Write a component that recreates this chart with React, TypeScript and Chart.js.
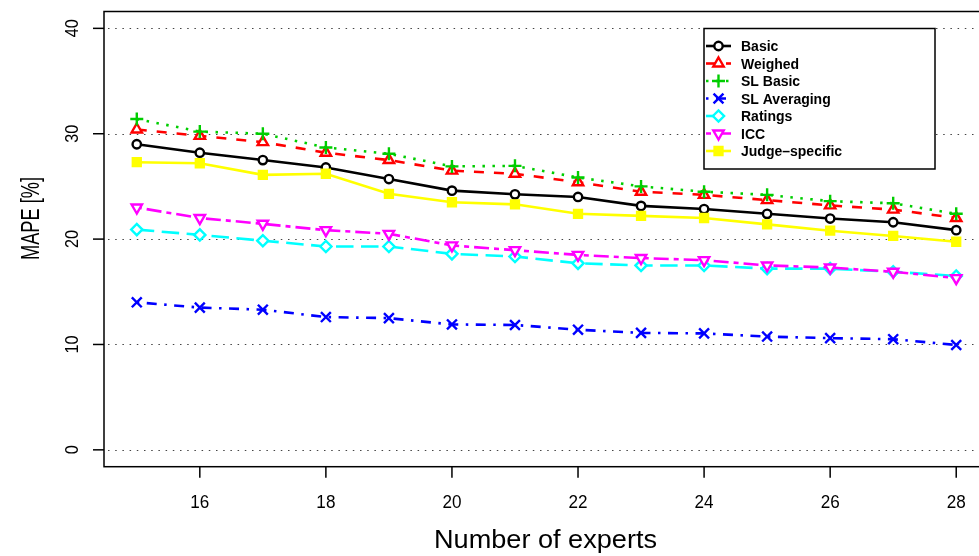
import React, { useEffect, useRef } from "react";
import { Chart, registerables } from "chart.js";
import { drawPoint } from "chart.js/helpers";

Chart.register(...registerables);

// ---------- data ----------
const experts = [15, 16, 17, 18, 19, 20, 21, 22, 23, 24, 25, 26, 27, 28];
const basic = [29.0, 28.2, 27.5, 26.8, 25.7, 24.6, 24.25, 24.0, 23.15, 22.85, 22.4, 21.95, 21.6, 20.85];
const weighed = [30.4, 29.8, 29.2, 28.2, 27.5, 26.5, 26.2, 25.4, 24.5, 24.2, 23.7, 23.2, 22.8, 22.0];
const slBasic = [31.4, 30.2, 30.0, 28.7, 28.1, 26.9, 26.95, 25.85, 25.0, 24.5, 24.2, 23.6, 23.4, 22.4];
const slAveraging = [14.0, 13.5, 13.3, 12.6, 12.5, 11.9, 11.85, 11.4, 11.1, 11.05, 10.75, 10.6, 10.5, 9.95];
const ratings = [20.9, 20.4, 19.85, 19.3, 19.3, 18.6, 18.35, 17.7, 17.5, 17.5, 17.2, 17.2, 16.9, 16.5];
const icc = [23.0, 22.0, 21.45, 20.85, 20.5, 19.4, 18.95, 18.5, 18.2, 18.0, 17.5, 17.3, 16.9, 16.3];
const judgeSpecific = [27.3, 27.2, 26.1, 26.2, 24.3, 23.5, 23.3, 22.4, 22.2, 22.0, 21.4, 20.8, 20.3, 19.75];

const seriesNames = ["Basic", "Weighed", "SL Basic", "SL Averaging", "Ratings", "ICC", "Judge\u2013specific"];
const xTicks = [16, 18, 20, 22, 24, 26, 28];
const yTicks = [0, 10, 20, 30, 40];
const xTitle = "Number of experts";
const yTitle = "MAPE [%]";

// ---------- styles ----------
const LW = 2.6;
const PBW = 2.4;
const styles = [
  { color: "#000000", dash: [], point: "circle", radius: 4.2, rot: 0, fill: false },
  { color: "#FF0000", dash: [10, 10], point: "triangle", radius: 6, rot: 0, fill: false },
  { color: "#00CD00", dash: [2.5, 7.5], point: "cross", radius: 6.5, rot: 0, fill: false },
  { color: "#0000FF", dash: [2.5, 7.5, 10, 7.5], point: "crossRot", radius: 7, rot: 0, fill: false },
  { color: "#00FFFF", dash: [17.5, 7.5], point: "rectRot", radius: 5.6, rot: 0, fill: false },
  { color: "#FF00FF", dash: [5, 5, 15, 5], point: "triangle", radius: 6, rot: 180, fill: false },
  { color: "#FFFF00", dash: [], point: "rect", radius: 5.6, rot: 0, fill: true },
];
const allSeries = [basic, weighed, slBasic, slAveraging, ratings, icc, judgeSpecific];

const FONT = '"Liberation Sans", Arial, Helvetica, sans-serif';

function drawText(
  ctx: CanvasRenderingContext2D,
  text: string,
  x: number,
  y: number,
  font: string,
  opts: { rotate?: number; align?: CanvasTextAlign; baseline?: CanvasTextBaseline; scale?: number; width?: number } = {}
) {
  ctx.save();
  ctx.font = font;
  ctx.fillStyle = "#000";
  ctx.translate(x, y);
  if (opts.rotate) ctx.rotate(opts.rotate);
  let sx = opts.scale ?? 1;
  if (opts.width) sx = opts.width / ctx.measureText(text).width;
  ctx.scale(sx, 1);
  ctx.textAlign = opts.align ?? "center";
  ctx.textBaseline = opts.baseline ?? "alphabetic";
  ctx.fillText(text, 0, 0);
  ctx.restore();
}

const rStylePlugin = {
  id: "rstyle",
  beforeDatasetsDraw(chart: any) {
    const { ctx, chartArea, scales } = chart;
    const y = scales.y;
    ctx.save();
    ctx.strokeStyle = "#444";
    ctx.lineWidth = 1.2;
    ctx.setLineDash([1.5, 5.7]);
    for (const v of yTicks) {
      const py = Math.round(y.getPixelForValue(v)) + 0.5;
      ctx.beginPath();
      ctx.moveTo(chartArea.left + 4, py);
      ctx.lineTo(chartArea.right, py);
      ctx.stroke();
    }
    ctx.restore();
  },
  afterDraw(chart: any) {
    const { ctx, chartArea, scales } = chart;
    const x = scales.x;
    const y = scales.y;
    ctx.save();
    // box
    ctx.strokeStyle = "#000";
    ctx.lineWidth = 1.5;
    ctx.setLineDash([]);
    ctx.strokeRect(chartArea.left, chartArea.top, chartArea.right - chartArea.left, chartArea.bottom - chartArea.top);
    // y ticks
    for (const v of yTicks) {
      const py = y.getPixelForValue(v);
      ctx.beginPath();
      ctx.moveTo(chartArea.left - 11, py);
      ctx.lineTo(chartArea.left, py);
      ctx.stroke();
      drawText(ctx, String(v), 78, py, `18px ${FONT}`, { rotate: -Math.PI / 2, scale: 0.9 });
    }
    // x ticks
    for (const v of xTicks) {
      const px = x.getPixelForValue(v);
      ctx.beginPath();
      ctx.moveTo(px, chartArea.bottom);
      ctx.lineTo(px, chartArea.bottom + 11);
      ctx.stroke();
      drawText(ctx, String(v), px, 508, `18px ${FONT}`, { scale: 0.95 });
    }
    // titles
    drawText(ctx, xTitle, 545.5, 548, `25px ${FONT}`, { width: 223 });
    drawText(ctx, yTitle, 39, 218.5, `26px ${FONT}`, { rotate: -Math.PI / 2, width: 83 });

    // legend
    const lx0 = 704, ly0 = 28.5, lx1 = 935, ly1 = 169;
    ctx.fillStyle = "#fff";
    ctx.fillRect(lx0, ly0, lx1 - lx0, ly1 - ly0);
    ctx.strokeStyle = "#000";
    ctx.lineWidth = 1.5;
    ctx.strokeRect(lx0, ly0, lx1 - lx0, ly1 - ly0);
    seriesNames.forEach((name, i) => {
      const s = styles[i];
      const ry = 46 + 17.5 * i;
      ctx.save();
      ctx.strokeStyle = s.color;
      ctx.lineWidth = LW;
      ctx.setLineDash(s.dash);
      ctx.beginPath();
      ctx.moveTo(706, ry);
      ctx.lineTo(731, ry);
      ctx.stroke();
      ctx.setLineDash([]);
      ctx.fillStyle = s.fill ? s.color : "#ffffff";
      ctx.strokeStyle = s.color;
      ctx.lineWidth = PBW;
      drawPoint(ctx, { pointStyle: s.point, rotation: s.rot, radius: s.radius, borderWidth: PBW } as any, 718.5, ry);
      ctx.restore();
      drawText(ctx, name, 741, ry + 5, `bold 14px ${FONT}`, { align: "left" });
    });
    ctx.restore();
  },
};

export default function App() {
  const ref = useRef<HTMLCanvasElement | null>(null);
  useEffect(() => {
    if (!ref.current) return;
    const datasets = seriesNames.map((name, i) => {
      const s = styles[i];
      return {
        label: name,
        order: seriesNames.length - i,
        data: experts.map((e, k) => ({ x: e, y: allSeries[i][k] })),
        borderColor: s.color,
        backgroundColor: s.fill ? s.color : "#ffffff",
        borderWidth: LW,
        borderDash: s.dash,
        pointStyle: s.point,
        pointRotation: s.rot,
        pointRadius: s.radius,
        pointBorderWidth: PBW,
        pointBorderColor: s.color,
        pointBackgroundColor: s.fill ? s.color : "#ffffff",
        tension: 0,
        fill: false,
      };
    });
    const chart = new Chart(ref.current, {
      type: "line",
      data: { datasets },
      options: {
        animation: false,
        responsive: false,
        devicePixelRatio: 1,
        layout: { padding: { left: 104, top: 11.5, right: 11, bottom: 89.3 } },
        plugins: { legend: { display: false }, tooltip: { enabled: false } },
        scales: {
          x: { type: "linear", min: 14.48, max: 28.52, display: false },
          y: { type: "linear", min: -1.6, max: 41.6, display: false },
        },
      },
      plugins: [rStylePlugin],
    } as any);
    return () => chart.destroy();
  }, []);
  return (
    <div style={{ position: "fixed", left: 0, top: 0, width: 979, height: 556, overflow: "hidden", background: "#fff" }}>
      <canvas ref={ref} width={1000} height={556} style={{ display: "block" }} />
    </div>
  );
}
